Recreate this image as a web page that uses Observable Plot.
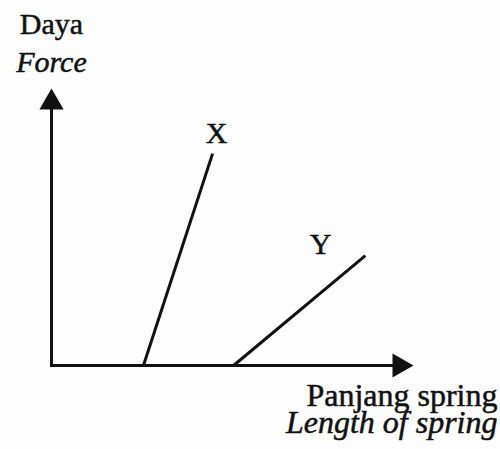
<!DOCTYPE html>
<html>
<head>
<meta charset="utf-8">
<script src="https://cdn.jsdelivr.net/npm/d3@7"></script>
<script src="https://cdn.jsdelivr.net/npm/@observablehq/plot@0.6"></script>
<style>
  html, body { margin: 0; padding: 0; background: #fdfdfd; }
  #chart svg { display: block; background: #fdfdfd; }
</style>
</head>
<body>
<div id="chart"></div>
<script>
// Series: two springs X and Y (force vs length), sketch-style values
const springNames = ["X", "Y"];
const startLength = [2.54, 5.03];   // length where force = 0
const endLength = [4.45, 8.67];
const endForce = [7.65, 3.97];

// Axis extent (arrow tips) in data units
const axisMax = 10;

// Labels for the springs
const springLabelX = [4.56, 7.43];
const springLabelY = [8.39, 4.37];

// Axis titles (Malay upright / English italic)
const yTitleMalay = "Daya";
const yTitleEnglish = "Force";
const yTitleX = 0;
const yTitleMalayY = 12.31;
const yTitleEnglishY = 10.96;
const xTitleMalay = "Panjang spring";
const xTitleEnglish = "Length of spring";
const xTitleX = 12.32;
const xTitleMalayY = -1.10;
const xTitleEnglishY = -2.08;

const segments = springNames.map((name, i) => ({
  name, x1: startLength[i], y1: 0, x2: endLength[i], y2: endForce[i]
}));
const springLabels = springNames.map((name, i) => ({name, x: springLabelX[i], y: springLabelY[i]}));

const font = "'Liberation Serif', 'Times New Roman', serif";
const ink = "#111";

const title = (t, x, y, size, italic, anchor) =>
  Plot.text([{t, x, y}], {x: "x", y: "y", text: "t", fontFamily: font, fontSize: size,
    fontStyle: italic ? "italic" : "normal", fill: ink, stroke: ink, strokeWidth: 0.5,
    textAnchor: anchor, lineAnchor: "middle"});

const chart = Plot.plot({
  width: 500,
  height: 449,
  marginLeft: 51,
  marginRight: 87,
  marginTop: 88,
  marginBottom: 84,
  x: {domain: [0, axisMax], axis: null},
  y: {domain: [0, axisMax], axis: null},
  style: {background: "#fdfdfd"},
  marks: [
    // axes
    Plot.link([{x1: 0, y1: 0, x2: axisMax * 0.95, y2: 0}], {x1: "x1", y1: "y1", x2: "x2", y2: "y2", stroke: ink, strokeWidth: 3, strokeLinecap: "square"}),
    Plot.link([{x1: 0, y1: 0, x2: 0, y2: axisMax * 0.95}], {x1: "x1", y1: "y1", x2: "x2", y2: "y2", stroke: ink, strokeWidth: 3, strokeLinecap: "square"}),
    Plot.dot([{x: 0, y: axisMax}], {x: "x", y: "y", symbol: "triangle", r: 9, fill: ink, stroke: "none", dy: 14}),
    Plot.dot([{x: axisMax, y: 0}], {x: "x", y: "y", symbol: "triangle", r: 9, fill: ink, stroke: "none", rotate: 90, dx: -14}),
    // spring lines
    Plot.link(segments, {x1: "x1", y1: "y1", x2: "x2", y2: "y2", stroke: ink, strokeWidth: 3}),
    Plot.text(springLabels, {x: "x", y: "y", text: "name", fontFamily: font, fontSize: 30, fill: ink, stroke: ink, strokeWidth: 0.5, textAnchor: "middle", lineAnchor: "middle"}),
    // axis titles
    title(yTitleMalay, yTitleX, yTitleMalayY, 30, false, "middle"),
    title(yTitleEnglish, yTitleX, yTitleEnglishY, 30, true, "middle"),
    title(xTitleMalay, xTitleX, xTitleMalayY, 32, false, "end"),
    title(xTitleEnglish, xTitleX, xTitleEnglishY, 32, true, "end")
  ]
});
document.getElementById("chart").appendChild(chart);
</script>
</body>
</html>
